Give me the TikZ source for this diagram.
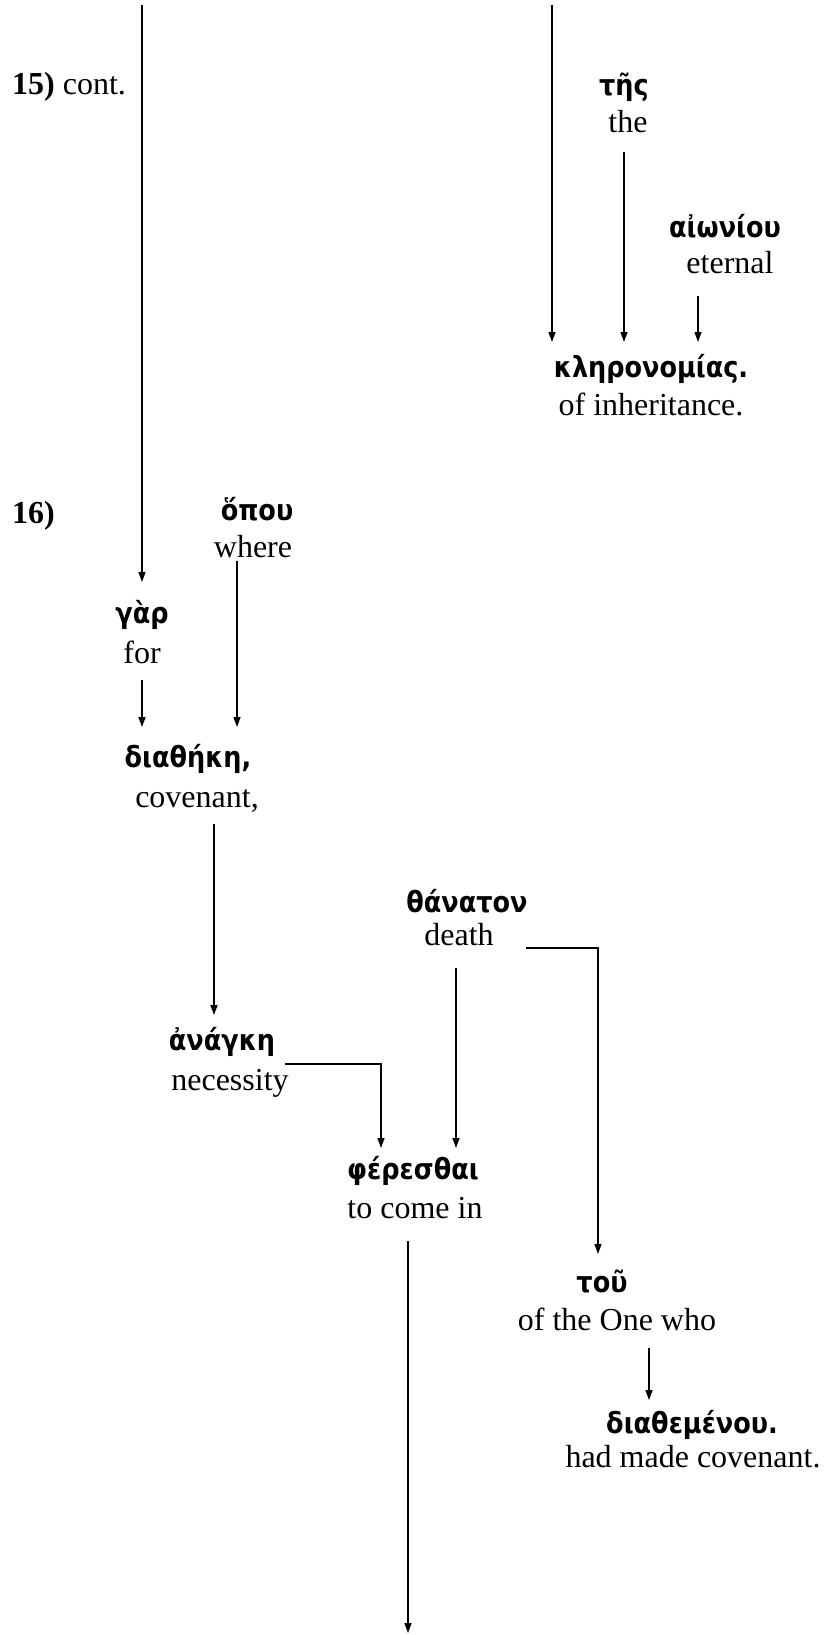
\documentclass[tikz,border=0pt]{standalone}
\usepackage{fontspec}
\setmainfont{Liberation Serif}
\newfontfamily\grk[FakeStretch=0.88]{DejaVu Sans}
\usetikzlibrary{arrows.meta}
\begin{document}
\begin{tikzpicture}[x=1pt,y=-1pt,
  gk/.style={font=\grk\bfseries\fontsize{29}{31}\selectfont, inner sep=0pt, anchor=base},
  en/.style={font=\fontsize{32}{34}\selectfont, inner sep=0pt, anchor=base},
  arr/.style={line width=1.3pt, -{Triangle[length=10pt,width=7pt]}}]
\useasboundingbox (0,0) rectangle (826,1635);
% nodes
\node[en, anchor=base west] (v15) at (12,95) {\textbf{15)} cont.};
\node[gk] (tes) at (624,96) {τῆς};
\node[en] (the) at (628,132) {the};
\node[gk] (aion) at (725,237) {αἰωνίου};
\node[en] (eternal) at (730,273) {eternal};
\node[gk] (kler) at (651,377) {κληρονομίας.};
\node[en] (inher) at (651,415) {of inheritance.};
\node[en, anchor=base west] (v16) at (12,523) {\textbf{16)}};
\node[gk] (hopou) at (257,520) {ὅπου};
\node[en] (where) at (253,557) {where};
\node[gk] (gar) at (142,623) {γὰρ};
\node[en] (for) at (142,663) {for};
\node[gk] (diath) at (188,767) {διαθήκη,};
\node[en] (cov) at (197,807) {covenant,};
\node[gk] (than) at (467,912) {θάνατον};
\node[en] (death) at (459,945) {death};
\node[gk] (anag) at (222,1050) {ἀνάγκη};
\node[en] (nec) at (230,1090) {necessity};
\node[gk] (pher) at (413,1179) {φέρεσθαι};
\node[en] (tocome) at (415,1218) {to come in};
\node[gk] (tou) at (602,1292) {τοῦ};
\node[en] (oftheone) at (617,1330) {of the One who};
\node[gk] (diathem) at (692,1433) {διαθεμένου.};
\node[en] (hadmade) at (693,1467) {had made covenant.};
% free ends
\coordinate (top1) at (142,5);
\coordinate (top2) at (552,5);
\coordinate (bot) at (408,1633);
% connectors
\draw[arr, shorten >=41pt] (top1) -- (top1 |- gar.base);
\draw[arr, shorten >=35pt] (top2) -- (top2 |- kler.base);
\draw[arr, shorten >=35pt] (the.base) ++(-4,20) coordinate (a1) -- (a1 |- kler.base);
\draw[arr, shorten >=35pt] (eternal.base) ++(-32,23) coordinate (a2) -- (a2 |- kler.base);
\draw[arr, shorten >=40pt] (where.base) ++(-16,4) coordinate (a3) -- (a3 |- diath.base);
\draw[arr, shorten >=40pt] (for.base) ++(0,17) coordinate (a4) -- (a4 |- diath.base);
\draw[arr, shorten >=35pt] (cov.base) ++(17,17) coordinate (a5) -- (a5 |- anag.base);
\draw[arr, shorten >=31pt] (death.base) ++(-3,23) coordinate (a6) -- (a6 |- pher.base);
\draw[arr, shorten >=38pt] (death.base) ++(67,3) -| ([xshift=-4pt]tou.base);
\draw[arr, shorten >=31pt] (nec.base) ++(55,-26) -| ([xshift=-32pt]pher.base);
\draw[arr] (tocome.base) ++(-7,23) -- (bot);
\draw[arr, shorten >=33pt] (oftheone.base) ++(32,18) coordinate (a7) -- (a7 |- diathem.base);
\end{tikzpicture}
\end{document}
